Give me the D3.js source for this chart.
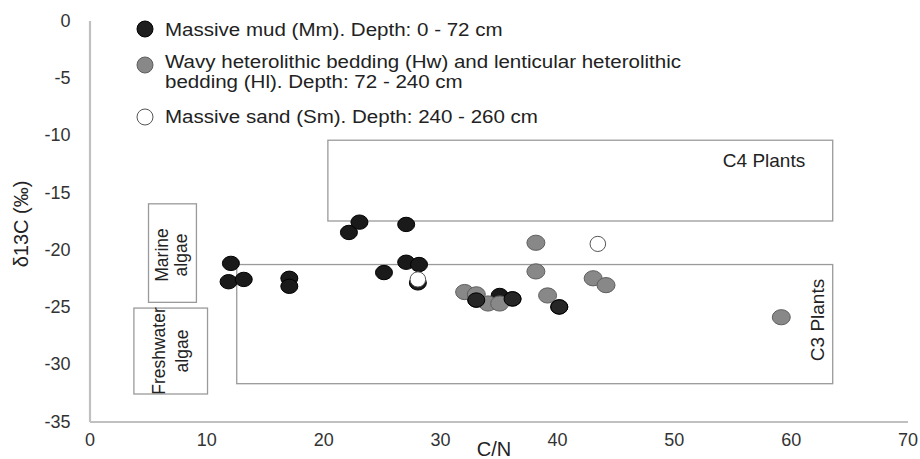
<!DOCTYPE html>
<html>
<head>
<meta charset="utf-8">
<script src="https://cdn.jsdelivr.net/npm/d3@7"></script>
<style>
  body { margin: 0; background: #fff; }
  svg text { font-family: "Liberation Sans", Arial, sans-serif; fill: #222; }
  .tick text { font-family: "Liberation Sans Narrow", "Liberation Sans", Arial, sans-serif; fill: #333; }
</style>
</head>
<body>
<script>
// C/N vs d13C, three facies
const mudCN   = [12.1, 11.9, 13.2, 17.1, 17.1, 22.2, 23.1, 27.1, 25.2, 27.1, 28.2, 28.1, 35.1, 33.1, 36.2, 40.2];
const mudD13C = [-21.2, -22.8, -22.6, -22.5, -23.2, -18.5, -17.6, -17.8, -22.0, -21.1, -21.3, -22.9, -24.0, -24.4, -24.3, -25.0];

const hetCN   = [32.1, 33.1, 34.1, 35.1, 38.2, 38.2, 39.2, 43.1, 44.2, 59.2];
const hetD13C = [-23.7, -23.9, -24.7, -24.7, -21.9, -19.4, -24.0, -22.5, -23.1, -25.9];

const sandCN   = [28.1, 43.5];
const sandD13C = [-22.6, -19.5];

// source fields: [cnMin, cnMax, d13cTop, d13cBottom]
const fieldNames = ["C4 Plants", "C3 Plants", "Marine algae", "Freshwater algae"];
const fieldBounds = [
  [20.4, 63.6, -10.45, -17.5],
  [12.6, 63.6, -21.3, -31.7],
  [5.05, 9.15, -16.0, -24.6],
  [3.8, 10.1, -25.1, -32.6]
];

const xTicks = [0, 10, 20, 30, 40, 50, 60, 70];
const yTicks = [0, -5, -10, -15, -20, -25, -30, -35];

const legendLabels = [
  ["Massive mud (Mm). Depth: 0 - 72 cm"],
  ["Wavy heterolithic bedding (Hw) and lenticular heterolithic", "bedding (Hl). Depth: 72 - 240 cm"],
  ["Massive sand (Sm). Depth: 240 - 260 cm"]
];

const W = 920, H = 459;
const svg = d3.select("body").append("svg").attr("width", W).attr("height", H);

const x = d3.scaleLinear().domain([0, 70]).range([89.5, 907.5]);
const y = d3.scaleLinear().domain([-35, 0]).range([421.5, 20.5]);

// axes
const xAxis = svg.append("g").attr("transform", `translate(0,${y(-35)})`)
  .call(d3.axisBottom(x).tickValues(xTicks).tickSize(0).tickPadding(12).tickFormat(d3.format("d")));
const yAxis = svg.append("g").attr("transform", `translate(${x(0)},0)`)
  .call(d3.axisLeft(y).tickValues(yTicks).tickSize(0).tickPadding(19).tickFormat(d => d === 0 ? "0" : "-" + Math.abs(d)));
[xAxis, yAxis].forEach(a => {
  a.select(".domain").attr("stroke", "#c0c0c0").attr("stroke-width", 2.2);
  a.selectAll(".tick text").attr("font-size", 18);
});

// field boxes
const fields = svg.append("g");
fieldBounds.forEach(b => {
  fields.append("rect")
    .attr("x", x(b[0])).attr("y", y(b[2]))
    .attr("width", x(b[1]) - x(b[0])).attr("height", y(b[3]) - y(b[2]))
    .attr("fill", "none").attr("stroke", "#9a9a9a").attr("stroke-width", 1.3);
});

fields.append("text").text(fieldNames[0])
  .attr("x", 764).attr("y", 167).attr("text-anchor", "middle").attr("font-size", 19);

fields.append("text").text(fieldNames[1])
  .attr("transform", "translate(824,320) rotate(-90)")
  .attr("text-anchor", "middle").attr("font-size", 19);

function rotatedTwoLine(text, cx, cy, gap) {
  const parts = text.split(" ");
  const g = fields.append("g").attr("transform", `translate(${cx},${cy}) rotate(-90)`);
  g.append("text").text(parts[0]).attr("x", 0).attr("y", -gap / 2 + 6)
    .attr("text-anchor", "middle").attr("font-size", 17.5);
  g.append("text").text(parts[1]).attr("x", 0).attr("y", gap / 2 + 6)
    .attr("text-anchor", "middle").attr("font-size", 17.5);
}
rotatedTwoLine(fieldNames[2], 171, 255, 19);
rotatedTwoLine(fieldNames[3], 170, 351, 23);

// points
const pts = svg.append("g");
function plot(cn, d13c, fill, stroke, rx, ry) {
  pts.selectAll(null).data(d3.zip(cn, d13c)).enter().append("ellipse")
    .attr("cx", d => x(d[0])).attr("cy", d => y(d[1]))
    .attr("rx", rx).attr("ry", ry)
    .attr("fill", fill).attr("stroke", stroke).attr("stroke-width", 1);
}
plot(mudCN, mudD13C, "#1a1a1a", "#000", 8.5, 7.2);
plot(hetCN, hetD13C, "#888", "#5e5e5e", 9, 7.6);
plot(sandCN, sandD13C, "#fff", "#555", 7.8, 7.6);
// mud points that sit on top of the heterolithic ones
plot(mudCN.slice(13), mudD13C.slice(13), "#262626", "#000", 8.5, 7.2);

// legend
const legend = svg.append("g");
const legendStyle = [["#1e1e1e", "#000"], ["#888", "#5e5e5e"], ["#fff", "#555"]];
const legendY = [29, 65, 117];
const lineY = [[36], [68, 88], [123]];
legendLabels.forEach((lines, i) => {
  legend.append("circle").attr("cx", 145).attr("cy", legendY[i]).attr("r", 8)
    .attr("fill", legendStyle[i][0]).attr("stroke", legendStyle[i][1]).attr("stroke-width", 1);
  lines.forEach((t, j) => {
    legend.append("g").attr("transform", `translate(165,${lineY[i][j]}) scale(1.11,1)`)
      .append("text").text(t).attr("font-size", 18.5);
  });
});

// axis titles
svg.append("text").text("δ13C (‰)")
  .attr("transform", "translate(28,224) rotate(-90)")
  .attr("text-anchor", "middle").attr("font-size", 20);
svg.append("text").text("C/N")
  .attr("x", 494).attr("y", 456).attr("text-anchor", "middle")
  .attr("font-family", "'Liberation Sans Narrow', 'Liberation Sans', sans-serif")
  .attr("font-size", 20);
</script>
</body>
</html>
